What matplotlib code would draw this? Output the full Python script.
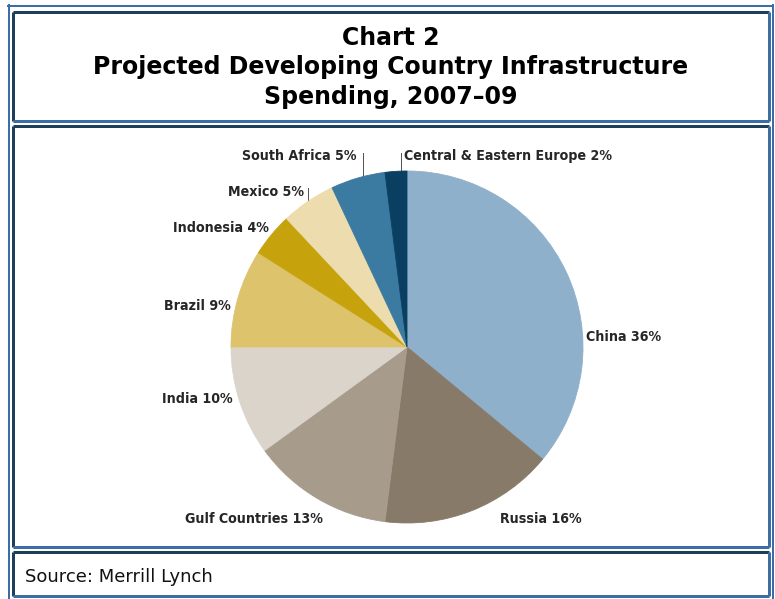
import matplotlib.pyplot as plt
from matplotlib.lines import Line2D

# share of projected infrastructure spending, clockwise from the top
regions = ['China', 'Russia', 'Gulf Countries', 'India', 'Brazil',
           'Indonesia', 'Mexico', 'South Africa', 'Central & Eastern Europe']
shares = [36, 16, 13, 10, 9, 4, 5, 5, 2]
colors = ['#8fb0cb', '#887a68', '#a79b8b', '#dbd4cb', '#dcc36c',
          '#c6a30c', '#ecdcae', '#3b7aa1', '#0a3f62']

title_lines = ['Chart 2',
               'Projected Developing Country Infrastructure',
               'Spending, 2007\u201309']
source = 'Source: Merrill Lynch'

W, H = 775, 599
fig = plt.figure(figsize=(W / 100, H / 100), dpi=100)

# background axes in pixel units for frames and text
bg = fig.add_axes([0, 0, 1, 1])
bg.set_xlim(0, W)
bg.set_ylim(H, 0)
bg.axis('off')

dark = '#1f3d5c'
light = '#3a6ea5'
px = 0.72  # points per pixel


def frame(x0, y0, x1, y1, w=3):
    # dark top/left, lighter bottom/right
    bg.add_line(Line2D([x0, x1], [y0, y0], color=dark, lw=w * px, solid_capstyle='butt'))
    bg.add_line(Line2D([x0, x0], [y0, y1], color=dark, lw=w * px, solid_capstyle='butt'))
    bg.add_line(Line2D([x0, x1], [y1, y1], color=light, lw=w * px, solid_capstyle='butt'))
    bg.add_line(Line2D([x1, x1], [y0, y1], color=light, lw=w * px, solid_capstyle='butt'))


# outer frame
bg.add_line(Line2D([9, 9], [5, H], color=light, lw=2 * px))
bg.add_line(Line2D([8, 773], [6, 6], color=light, lw=2 * px))
bg.add_line(Line2D([772.5, 772.5], [5, H], color=light, lw=2 * px))

frame(13, 12, 769, 121)
frame(13, 126, 769, 547)
frame(13, 552, 769, 596)

for y, line in zip([38, 67, 97], title_lines):
    bg.text(391, y, line, ha='center', va='center', fontsize=17,
            fontweight='bold', family='DejaVu Sans', color='black')

bg.text(25, 577, source, ha='left', va='center', fontsize=13,
        family='DejaVu Sans', color='#111111')

# pie
cx, cy, r = 407, 347, 176
pie_ax = fig.add_axes([(cx - r) / W, 1 - (cy + r) / H, 2 * r / W, 2 * r / H])
wedges, _ = pie_ax.pie(shares, colors=colors, startangle=90, counterclock=False,
                       radius=1, wedgeprops={'linewidth': 0.6})
for w, c in zip(wedges, colors):
    w.set_edgecolor(c)
pie_ax.set_xlim(-1, 1)
pie_ax.set_ylim(-1, 1)
pie_ax.set_aspect('equal')
pie_ax.axis('off')

# label anchors (x, y, alignment)
label_pos = [(586, 337, 'left'), (500, 519, 'left'), (323, 519, 'right'),
             (233, 399, 'right'), (231, 306, 'right'), (269, 228, 'right'),
             (304, 192, 'right'), (357, 156, 'right'), (404, 156, 'left')]
label_font = dict(fontsize=10.2, fontweight='bold',
                  family=['Liberation Sans Narrow', 'DejaVu Sans'],
                  stretch='condensed', color='#262626')
for name, val, (x, y, ha) in zip(regions, shares, label_pos):
    bg.text(x, y, f'{name} {val}%', ha=ha, va='center', **label_font)

# leader lines for the small slices
for x, y0, y1 in [(308, 188, 202), (363, 153, 176), (401, 153, 172)]:
    bg.add_line(Line2D([x, x], [y0, y1], color='#555555', lw=1 * px))

fig.savefig('out.png', dpi=100)
